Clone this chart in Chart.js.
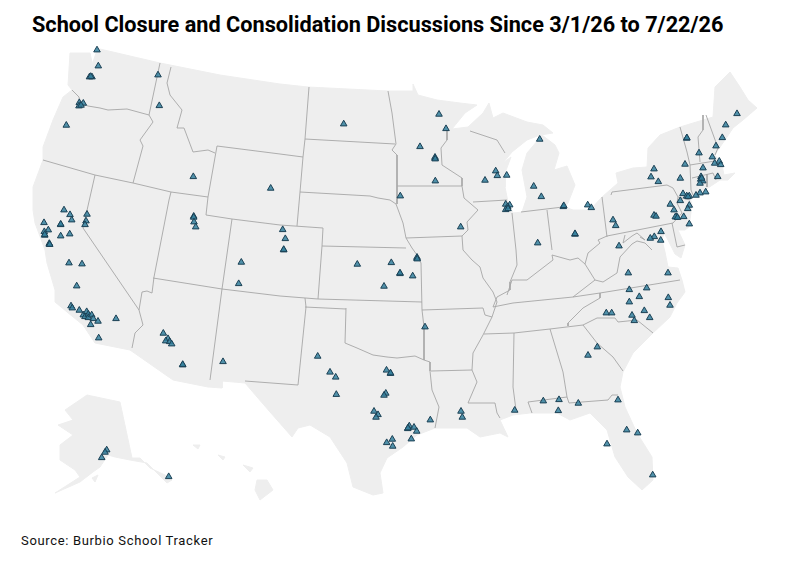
<!DOCTYPE html>
<html>
<head>
<meta charset="utf-8">
<title>School Closure and Consolidation Discussions</title>
<script src="https://cdn.jsdelivr.net/npm/chart.js@4"></script>
<style>
  body { margin: 0; background: #fff; width: 800px; height: 562px; overflow: hidden; position: relative; }
  #mapChart { position: absolute; left: 0; top: 0; }
  #title { position: absolute; left: 32px; top: 12px; font: bold 21.7px Roboto, sans-serif; color: #000; white-space: nowrap; }
  #source { position: absolute; left: 21px; top: 533px; font: 13px Roboto, sans-serif; letter-spacing: 0.66px; color: #111; white-space: nowrap; }
</style>
</head>
<body>
<div id="title">School Closure and Consolidation Discussions Since 3/1/26 to 7/22/26</div>
<div id="source">Source: Burbio School Tracker</div>
<canvas id="mapChart" width="800" height="562"></canvas>
<script>
// Discussion sites
const sites = [
  [97,50],[98.3,66],[89.5,77],[92,77],[90.7,76.5],[79.3,102.7],[83.3,103.3],[79,106],[81,105.3],[66.3,125.3],[158,75],[159.3,105.7],
  [193.3,176.7],[270.7,188.3],[64,210],[70,214.7],[71.7,220],[87,214.3],[86,221],[85,224.7],[44,222.7],[60.7,224.7],[60.7,224.2],
  [48.3,230],[44.3,231.7],[44.7,235.3],[44.7,234.5],[60.7,236],[69.7,234],[49.3,244.3],[49.3,243.5],[49.7,244.5],[69,263],[82,264],
  [76.7,286],[71,306],[72.3,308],[79.3,310.3],[83.3,315],[85,316.7],[86.7,311.7],[88.3,314.3],[88.3,317.7],[91.7,315],[93.3,318.7],
  [90.7,324.7],[98,321.3],[116,318.7],[98.7,338],[193.7,216.3],[193.7,217.3],[194,222],[195.7,227],[241.3,262.3],[238.7,283.7],
  [163.3,333.3],[168,338.7],[165.7,341],[169.7,341.7],[171.7,344],[182.7,365],[182.7,364.5],[223,361.7],
  [343.7,124],[439,114.3],[446,128.7],[420,146.7],[435,158.3],[435,157.3],[435.2,159],[435.3,181],[400.3,196],[485,180.3],[495.7,171],
  [497.3,175.7],[506.7,175.3],[539.7,139.3],[533.7,186.3],[541.3,196.7],[505.7,204.3],[509.7,205],[507.7,206.7],[505.7,209.7],[508,208.7],
  [460.7,227],[537.7,243],[282.7,229.7],[285.3,238.7],[283.7,250],[283.7,249.5],
  [563.3,206.7],[563.8,205.7],[587.7,205],[591.3,207.7],[575,234.3],[575,233.7],[613,220],[615.7,225.7],[619,246],[654,169],[651,177],[658.3,181.7],
  [686.7,138.3],[686.9,137.8],[737,113.7],[725.7,125],[722.3,137.7],[716,146],[699,153],[712.3,157],[685,164.3],[714.7,163.3],[719.3,161.3],[720.7,164.7],
  [703,168],[680.3,178.3],[717.7,176.7],[701,176.7],[700.7,179.3],[702.7,181],[700,183.3],[701.7,178.3],[705.7,192],[700,193],[696,195.3],[683,193.7],
  [686.7,196],[689.3,196],[688,196.7],[680.3,200.7],[670.3,204.3],[674,210],[689.3,205.3],[687.7,208.7],[683.7,216.7],[676.7,216.7],[675.3,217],[677.5,217.5],
  [654,215.3],[656,216.3],[689.3,224],[661,231.7],[660.7,240.3],[654.3,236.7],[650.3,238.3],
  [357.3,264.3],[391.3,262.7],[400,273.7],[400,273],[412.7,276],[384,286.3],[417,258.3],[417,257.3],[417.2,259],[425,327],
  [317.7,356.3],[330,372.2],[335.7,377.2],[336.3,394.5],[386.5,370.2],[390.5,373.5],[390.5,373],[385.8,393.3],[384,395.3],
  [374,411.3],[378,414.7],[376,417.3],[430.3,420],[461,411.3],[462.3,417.3],[409.3,426],[407.7,428.7],[408,428],[414,427.3],[416.7,431.3],[411.3,439],
  [392.3,439.3],[386.7,442.7],[392.7,446.3],
  [628.3,273],[668,273],[629.3,289.7],[646.7,288],[639.3,296.7],[629.3,302],[668.3,297.7],[670,305.3],[644.3,310.7],[649.7,317.7],[632,315.3],[634.3,320.7],
  [606.3,313],[611.7,313],[597.3,347],[588,355.3],[514.7,410.3],[543.3,401],[559,399.7],[558.3,410.7],[578.3,403.3],[618,400],[626.7,430],[637.7,433],[607,444],[652.7,475],
  [106.7,450],[105,452.3],[101.7,457.7],[168.7,476.7]
];

// Land outlines
const lower48 = [
  [70,53],[90,53],[92,62],[90,73],[93,62],[97,50],[100,49],[130,56],[160,63],[220,75],[280,84],[308,87],[388,91],[413,91],[413,84],[418,95],[437,100],[460,103],[477,105],
  [465,113],[452,129],[468,127],[483,113],[489,103],[493,118],[503,113],[527,122],[543,125],[553,133],[540,135],[527,140],[512,152],[503,163],[511,157],[505,173],[505,187],[508,202],[513,213],
  [522,212],[527,197],[522,170],[527,153],[538,140],[542,135],[555,145],[559,153],[554,170],[567,166],[575,185],[568,203],[565,207],[573,210],[590,210],[602,197],[610,190],[618,183],[616,173],
  [633,168],[647,167],[648,148],[660,135],[680,127],[703,120],[713,117],[715,87],[730,72],[740,87],[748,100],[757,108],[743,120],[733,128],[727,137],[718,150],[715,155],[722,165],
  [724,175],[735,173],[728,180],[720,180],[708,188],[690,197],[692,205],[689,227],[685,230],[678,230],[685,245],[681,258],[675,254],[668,240],[664,233],[662,240],[665,252],[668,267],[678,268],[682,280],[685,292],[677,303],[670,317],
  [653,333],[633,353],[623,372],[620,387],[625,407],[637,433],[652,457],[653,480],[642,490],[628,477],[615,457],[607,430],[590,413],[570,420],[557,413],[530,413],[513,415],[500,420],
  [508,437],[500,433],[480,437],[467,428],[435,428],[417,435],[403,447],[387,458],[380,473],[383,493],[373,495],[353,487],[347,463],[330,437],[310,425],[298,428],[292,437],[270,412],
  [245,383],[222,381],[222,388],[208,387],[173,380],[130,350],[95,343],[83,325],[67,312],[55,302],[55,290],[47,263],[45,250],[35,223],[33,210],[33,187],[43,160],[43,147],[53,120],
  [63,97],[72,90],[68,85],[70,53]
];
const alaska = [
  [87,395],[120,402],[132,458],[140,458],[150,468],[165,475],[172,480],[167,483],[147,463],[130,460],[115,457],[108,455],[100,467],[93,472],[80,482],[55,493],[80,477],[75,470],
  [60,460],[60,445],[73,435],[58,425],[73,420],[65,410],[87,395]
];
const kodiak = [[92,478],[98,475],[95,482],[92,478]];
const hawaii = [[257,480],[267,480],[273,490],[260,500],[255,490],[257,480]];
const maui = [[243,465],[253,468],[250,472],[243,465]];
const oahu = [[218,455],[225,457],[223,460],[218,455]];
const kauai = [[193,445],[200,445],[198,449],[193,445]];
const landShapes = [lower48, alaska, kodiak, hawaii, maui, oahu, kauai];

// State lines
const stateLines = [
  [[72,90],[79,97],[80,103],[88,106],[100,108],[108,110],[127,109],[149,115]],
  [[160,63],[149,115],[153,122],[140,140],[143,146],[133,183]],
  [[171,67],[167,83],[170,95],[182,110],[177,128],[184,128],[193,152],[208,150],[215,153]],
  [[43,160],[95,175],[133,183],[171,192],[208,197]],
  [[217,146],[208,197],[206,215],[232,219],[280,225],[323,228],[322,246],[318,299]],
  [[217,146],[280,154],[303,157]],
  [[309,87],[305,139],[303,157],[300,192],[297,226]],
  [[305,139],[395,144]],
  [[388,91],[392,113],[396,144],[392,150],[397,155],[397,186],[397,204]],
  [[300,192],[370,196],[378,198],[390,200],[396,204],[403,223],[406,238],[412,248],[417,255],[421,263],[422,310],[424,327],[424,360]],
  [[397,186],[462,186]],
  [[406,238],[462,236]],
  [[322,246],[406,248]],
  [[447,130],[447,140],[441,148],[442,165],[462,178],[462,186],[464,198],[478,210],[467,222],[468,230],[462,236],[463,250],[472,260],[480,267],[483,278],[493,292],[497,302],[492,317],[483,335],[473,353],[472,370],[477,382],[468,403],[495,403],[497,413],[500,418]],
  [[473,202],[507,200]],
  [[470,131],[497,140],[505,153]],
  [[512,213],[516,250],[517,265],[510,282],[510,290],[497,297],[493,307]],
  [[547,210],[552,250]],
  [[521,212],[563,207]],
  [[602,197],[607,237]],
  [[507,295],[512,280],[527,280],[540,270],[553,260],[552,255],[570,260],[578,258],[585,264],[588,253],[600,243],[598,240],[607,236],[673,223]],
  [[611,195],[612,192],[667,185],[673,188],[678,197],[677,203],[682,213],[673,223]],
  [[678,197],[690,200]],
  [[680,127],[687,152],[690,165],[691,190],[693,195]],
  [[703,115],[703,130],[698,137],[700,162]],
  [[706,115],[718,148],[715,155]],
  [[690,165],[715,161]],
  [[692,178],[713,173],[716,180]],
  [[707,174],[707,187]],
  [[672,223],[677,247],[685,245]],
  [[625,235],[623,243],[632,236],[637,233],[645,240],[640,237]],
  [[585,264],[595,280],[603,282],[617,273],[620,257],[632,244],[637,241],[645,243],[652,250]],
  [[493,307],[513,303],[573,297],[600,293],[680,280]],
  [[573,297],[595,280]],
  [[484,334],[514,333],[550,329],[583,325]],
  [[600,293],[600,298],[583,308],[568,323],[568,326]],
  [[583,325],[597,318],[615,318],[618,322],[637,320],[653,333]],
  [[583,325],[597,343],[613,357],[623,371]],
  [[550,329],[563,372],[567,397]],
  [[514,333],[513,387],[516,410]],
  [[532,413],[528,402],[567,397],[569,403],[608,400],[612,395],[618,395]],
  [[422,310],[483,308],[485,315],[492,317]],
  [[431,371],[472,370]],
  [[346,308],[345,343],[357,348],[373,355],[387,357],[397,358],[415,356],[424,360],[430,362],[430,371],[432,390],[439,407],[435,428]],
  [[153,278],[222,289],[280,296],[318,299],[422,302]],
  [[305,298],[306,307],[298,385],[245,381]],
  [[305,307],[346,309]],
  [[232,219],[222,289],[210,380]],
  [[171,192],[169,200],[154,277],[152,293],[147,291],[142,292],[139,310],[143,325],[135,333],[132,348]],
  [[95,175],[83,228],[139,310]]
];

const landColor = '#eeeeee';
const lineColor = '#a6a6a6';

function toPoints(list) {
  return list.map(p => ({ x: p[0], y: p[1] }));
}

// Datasets: land at the back, then state lines, sites on top
const datasets = [];
landShapes.forEach(shape => {
  datasets.push({
    type: 'line',
    data: toPoints(shape),
    borderColor: landColor,
    backgroundColor: landColor,
    borderWidth: 1,
    pointRadius: 0,
    tension: 0,
    fill: 'shape',
    order: 3
  });
});
stateLines.forEach(line => {
  datasets.push({
    type: 'line',
    data: toPoints(line),
    borderColor: lineColor,
    borderWidth: 0.9,
    pointRadius: 0,
    tension: 0,
    fill: false,
    order: 2
  });
});
datasets.push({
  type: 'scatter',
  data: toPoints(sites),
  pointStyle: 'triangle',
  pointRadius: 3.8,
  pointBackgroundColor: 'rgba(52, 128, 158, 0.85)',
  pointBorderColor: '#1b4054',
  pointBorderWidth: 1,
  order: 1
});

new Chart(document.getElementById('mapChart').getContext('2d'), {
  type: 'scatter',
  data: { datasets: datasets },
  options: {
    responsive: false,
    animation: false,
    layout: { padding: 0, autoPadding: false },
    plugins: { legend: { display: false }, tooltip: { enabled: false } },
    scales: {
      x: { type: 'linear', min: 0, max: 800, display: false },
      y: { type: 'linear', min: 0, max: 562, reverse: true, display: false }
    }
  }
});
</script>
</body>
</html>
